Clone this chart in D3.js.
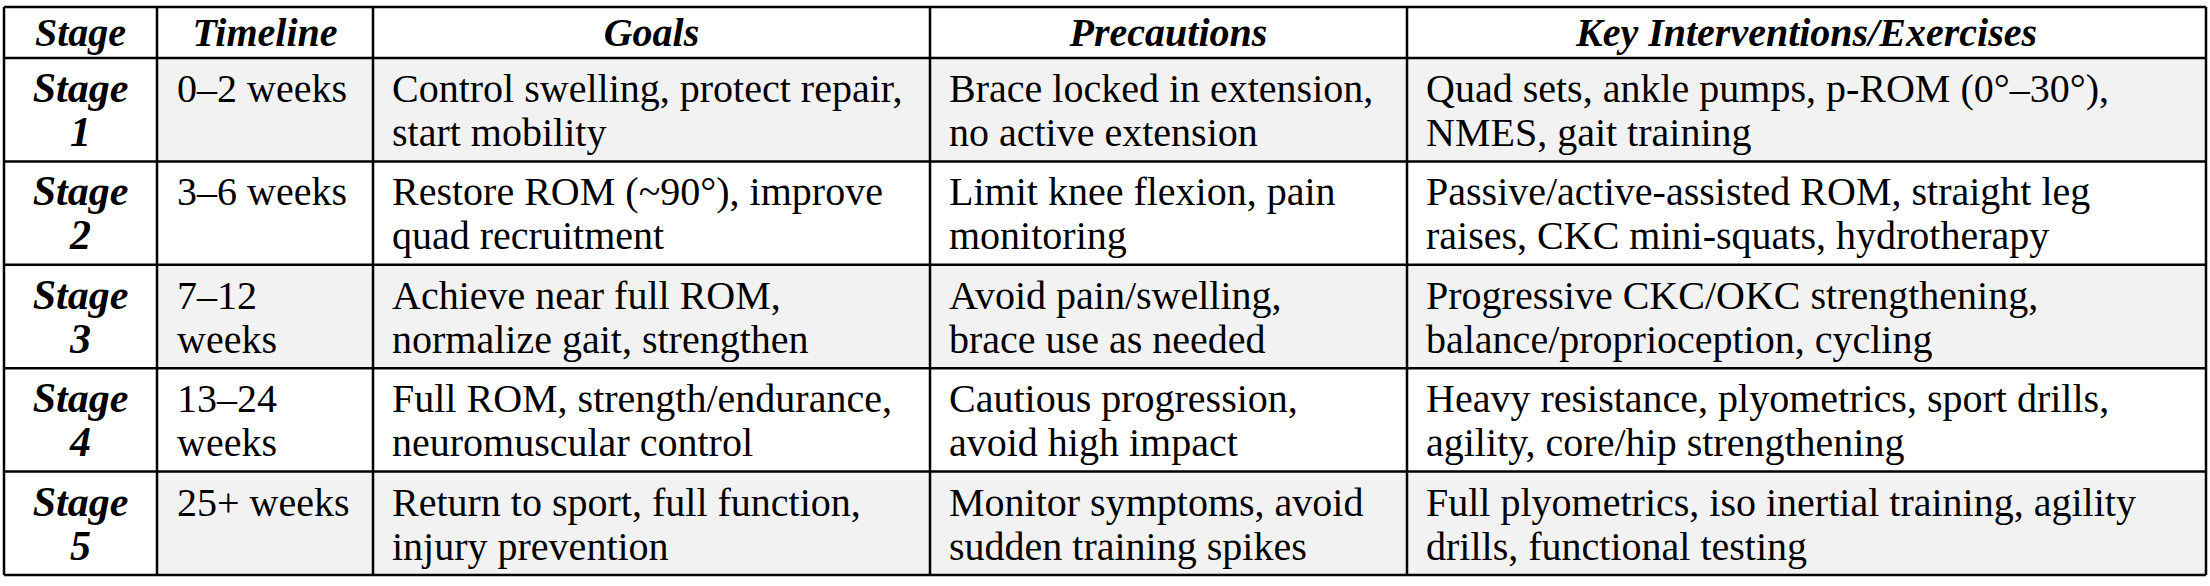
<!DOCTYPE html>
<html>
<head>
<meta charset="utf-8">
<script src="https://cdn.jsdelivr.net/npm/d3@7"></script>
<style>
  body { margin: 0; background: #fff; }
</style>
</head>
<body>
<div id="table"></div>
<script>
// table content
var headers = ["Stage", "Timeline", "Goals", "Precautions", "Key Interventions/Exercises"];
var stages = [["Stage", "1"], ["Stage", "2"], ["Stage", "3"], ["Stage", "4"], ["Stage", "5"]];
var timelines = [["0–2 weeks"], ["3–6 weeks"], ["7–12", "weeks"], ["13–24", "weeks"], ["25+ weeks"]];
var goals = [
  ["Control swelling, protect repair,", "start mobility"],
  ["Restore ROM (~90°), improve", "quad recruitment"],
  ["Achieve near full ROM,", "normalize gait, strengthen"],
  ["Full ROM, strength/endurance,", "neuromuscular control"],
  ["Return to sport, full function,", "injury prevention"]
];
var precautions = [
  ["Brace locked in extension,", "no active extension"],
  ["Limit knee flexion, pain", "monitoring"],
  ["Avoid pain/swelling,", "brace use as needed"],
  ["Cautious progression,", "avoid high impact"],
  ["Monitor symptoms, avoid", "sudden training spikes"]
];
var interventions = [
  ["Quad sets, ankle pumps, p-ROM (0°–30°),", "NMES, gait training"],
  ["Passive/active-assisted ROM, straight leg", "raises, CKC mini-squats, hydrotherapy"],
  ["Progressive CKC/OKC strengthening,", "balance/proprioception, cycling"],
  ["Heavy resistance, plyometrics, sport drills,", "agility, core/hip strengthening"],
  ["Full plyometrics, iso inertial training, agility", "drills, functional testing"]
];

var FONT = "'Liberation Serif', 'Times New Roman', Times, 'DejaVu Serif', serif";
var width = 2210, height = 586;
var colEdges = [4, 157, 373, 930, 1407, 2206];
var headerTop = 7, headerBottom = 58, tableBottom = 575;

var svg = d3.select("#table").append("svg")
  .attr("width", width).attr("height", height);

var y = d3.scaleBand().domain(d3.range(stages.length))
  .range([headerBottom, tableBottom]);

var columns = [stages, timelines, goals, precautions, interventions];

// row backgrounds (odd rows shaded, except stage column)
svg.selectAll("rect.bg").data(d3.range(stages.length).filter(function (i) { return i % 2 == 0; }))
  .enter().append("rect")
  .attr("x", colEdges[1]).attr("width", colEdges[5] - colEdges[1])
  .attr("y", function (i) { return y(i); }).attr("height", y.bandwidth())
  .attr("fill", "#f2f2f2");

// header text
svg.selectAll("text.head").data(headers).enter().append("text")
  .attr("x", function (d, i) { return (colEdges[i] + colEdges[i + 1]) / 2; })
  .attr("y", headerTop + 39)
  .attr("text-anchor", "middle")
  .attr("font-family", FONT)
  .style("font-size", "40px").style("font-weight", "bold").style("font-style", "italic")
  .text(function (d) { return d; });

// body cells
columns.forEach(function (col, c) {
  col.forEach(function (lines, r) {
    var t = svg.append("text")
      .attr("font-family", FONT)
      .style("font-size", c == 0 ? "42px" : "40px")
      .style("font-weight", c == 0 ? "bold" : "normal")
      .style("font-style", c == 0 ? "italic" : "normal")
      .attr("text-anchor", c == 0 ? "middle" : "start");
    lines.forEach(function (line, k) {
      t.append("tspan")
        .attr("x", c == 0 ? (colEdges[0] + colEdges[1]) / 2 : colEdges[c] + (c == 1 ? 20 : 19))
        .attr("y", y(r) + 44 + k * 44)
        .text(line);
    });
  });
});

// grid lines
var g = svg.append("g").attr("stroke", "#000").attr("stroke-width", 2.5);
var hLines = [headerTop, headerBottom].concat(d3.range(1, stages.length).map(function (i) { return y(i); }), [tableBottom]);
g.selectAll("line.h").data(hLines).enter().append("line")
  .attr("x1", colEdges[0]).attr("x2", colEdges[5])
  .attr("y1", function (d) { return d; }).attr("y2", function (d) { return d; });
g.selectAll("line.v").data(colEdges).enter().append("line")
  .attr("x1", function (d) { return d; }).attr("x2", function (d) { return d; })
  .attr("y1", headerTop).attr("y2", tableBottom);
</script>
</body>
</html>
